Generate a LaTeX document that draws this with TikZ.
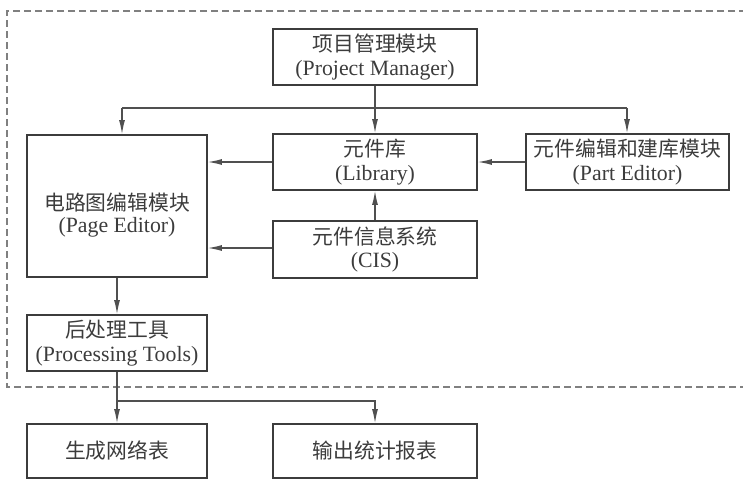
\documentclass[tikz,border=0pt]{standalone}
\usepackage{fontspec}
\setmainfont{Liberation Serif}
\newfontfamily\cjk{Noto Sans CJK SC}
\usetikzlibrary{arrows.meta,calc}
\definecolor{ink}{HTML}{3C3C3C}
\definecolor{linec}{HTML}{505050}
\definecolor{dashc}{HTML}{808080}
\newcommand{\zh}[1]{{\cjk\fontsize{20.8}{24}\selectfont #1}}
\begin{document}
\begin{tikzpicture}[x=1pt,y=-1pt,
  box/.style={draw=ink,line width=1.8pt,text=ink,align=center,inner sep=0pt,
    font=\fontsize{21.8}{23.5}\selectfont},
  wide/.style={minimum width=204pt},
  narrow/.style={minimum width=180pt},
  conn/.style={draw=linec,line width=1.2pt},
  arr/.style={conn,-{Latex[length=14pt,width=6pt]}}]
\useasboundingbox (0,0) rectangle (743,479);
% dashed frame
\draw[dashc,line width=1.1pt,dash pattern=on 7pt off 4pt] (746,11) -- (7,11) -- (7,387) -- (746,387);
% nodes
\node[box,wide,minimum height=56pt] (pm) at (375,57) {\zh{项目管理模块}\\(Project Manager)};
\node[box,narrow,minimum height=142pt] (pe) at (117,206) {\raisebox{-10pt}[\height][\depth]{\begin{tabular}{@{}c@{}}\zh{电路图编辑模块}\\[-1pt](Page Editor)\end{tabular}}};
\node[box,wide,minimum height=56pt] (lib) at (375,162) {\zh{元件库}\\(Library)};
\node[box,minimum width=203pt,minimum height=56pt] (part) at (627.5,162) {\zh{元件编辑和建库模块}\\(Part Editor)};
\node[box,wide,minimum height=57pt] (cis) at (375,249.5) {\zh{元件信息系统}\\(CIS)};
\node[box,narrow,minimum height=56pt] (proc) at (117,343) {\zh{后处理工具}\\(Processing Tools)};
\node[box,narrow,minimum height=54pt] (net) at (117,451) {\zh{生成网络表}};
\node[box,wide,minimum height=54pt] (out) at (375,451) {\zh{输出统计报表}};
% junctions
\coordinate (pa) at (122,108);
\coordinate (pb) at (627,108);
\coordinate (b1) at (117,401);
% connectors
\draw[arr] (pm.south) -- (lib.north);
\draw[conn] (pa) -- (pb);
\draw[arr] (pa) -- (pa |- pe.north);
\draw[arr] (pb) -- (pb |- part.north);
\draw[arr] (lib.west) -- (lib.west -| pe.east);
\draw[arr] (part.west) -- (lib.east);
\draw[arr] (cis.north) -- (lib.south);
\draw[arr] ($(cis.west)+(0,-1.5)$) -- ($(cis.west -| pe.east)+(0,-1.5)$);
\draw[arr] (pe.south) -- (proc.north);
\draw[arr] (proc.south) -- (net.north);
\draw[arr] (b1) -| (out.north);
\end{tikzpicture}
\end{document}
